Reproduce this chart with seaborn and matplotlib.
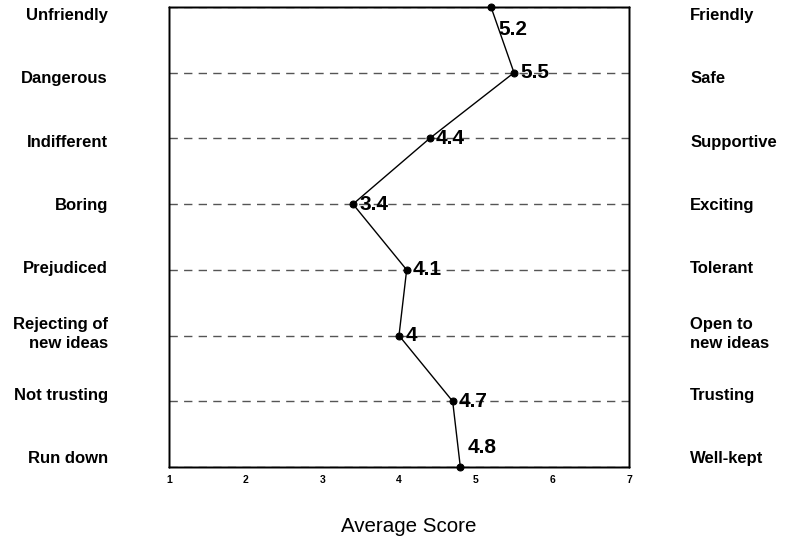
import matplotlib
matplotlib.use("Agg")
import matplotlib.pyplot as plt
import seaborn as sb
import numpy as np
import pandas as pd

# пары противоположных характеристик и средние оценки
left_labels = ["Unfriendly", "Dangerous", "Indifferent", "Boring", "Prejudiced",
               "Rejecting of\nnew ideas", "Not trusting", "Run down"]
right_labels = ["Friendly", "Safe", "Supportive", "Exciting", "Tolerant",
                "Open to\nnew ideas", "Trusting", "Well-kept"]
scores = [5.2, 5.5, 4.4, 3.4, 4.1, 4.0, 4.7, 4.8]
score_text = ["5.2", "5.5", "4.4", "3.4", "4.1", "4", "4.7", "4.8"]
x_ticks = [1, 2, 3, 4, 5, 6, 7]

df = pd.DataFrame({"row": np.arange(len(scores)), "score": scores})

sb.set_theme(style="white")
plt.rcParams["font.family"] = ["Liberation Sans", "DejaVu Sans"]
plt.rcParams["text.color"] = "black"
plt.rcParams["xtick.color"] = "black"
plt.rcParams["ytick.color"] = "black"
plt.rcParams["axes.labelcolor"] = "black"

fig = plt.figure(figsize=(7.89, 5.37), dpi=100)
ax = fig.add_axes([0.2142, 0.1304, 0.583, 0.8566])

# пунктирные линии для каждой строки
for r in df.row:
    ax.axhline(r, color="#555555", lw=1, ls=(0, (6, 4.5)), zorder=1)

sb.lineplot(data=df, x="score", y="row", sort=False, estimator=None,
            color="black", lw=1, marker="o", markersize=5,
            markeredgecolor="black", ax=ax, zorder=3, clip_on=False)

for i, (s, t) in enumerate(zip(scores, score_text)):
    if i == 0:
        off = (5, -16)
    elif i == len(scores) - 1:
        off = (5, 14)
    else:
        off = (4.5, 0)
    ax.annotate(t, (s, i), xytext=off, textcoords="offset points",
                ha="left", va="center", fontsize=15, fontweight="bold")

ax.set_xlim(1, 7)
ax.set_ylim(len(scores) - 1, 0)
ax.set_xticks(x_ticks)
ax.set_xticklabels([str(t) for t in x_ticks], fontsize=7.5, fontweight="bold")
ax.set_yticks([])
ax.tick_params(axis="both", length=0)
ax.tick_params(axis="x", pad=6)

# подписи шкал идут с немного другим шагом, чем строки
lab_lim = (7.159, -0.111)
ax_l = ax.twinx()
ax_l.set_ylim(lab_lim)
ax_l.yaxis.tick_left()
ax_l.set_yticks(df.row)
ax_l.set_yticklabels(left_labels, fontsize=12, fontweight="bold", linespacing=1.38)
ax_l.tick_params(axis="y", length=0, pad=44)

ax_r = ax.twinx()
ax_r.set_ylim(lab_lim)
ax_r.set_yticks(df.row)
ax_r.set_yticklabels(right_labels, fontsize=12, fontweight="bold", linespacing=1.38)
ax_r.tick_params(axis="y", length=0, pad=44)

for a in (ax, ax_l, ax_r):
    a.set_ylabel("")
    for sp in a.spines.values():
        sp.set_color("black")
        sp.set_linewidth(1)

ax.set_xlabel("Average Score", fontsize=14.8)
ax.xaxis.set_label_coords(0.522, -0.108)

fig.savefig("out.png", dpi=100)
